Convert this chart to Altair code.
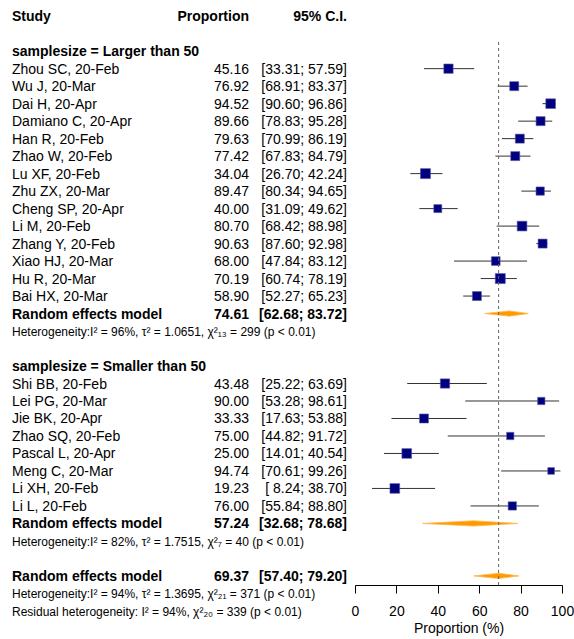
import altair as alt
import pandas as pd

# ---------------- data ----------------
studies_g1 = ["Zhou SC, 20-Feb", "Wu J, 20-Mar", "Dai H, 20-Apr", "Damiano C, 20-Apr",
              "Han R, 20-Feb", "Zhao W, 20-Feb", "Lu XF, 20-Feb", "Zhu ZX, 20-Mar",
              "Cheng SP, 20-Apr", "Li M, 20-Feb", "Zhang Y, 20-Feb", "Xiao HJ, 20-Mar",
              "Hu R, 20-Mar", "Bai HX, 20-Mar"]
prop_g1 = [45.16, 76.92, 94.52, 89.66, 79.63, 77.42, 34.04, 89.47, 40.00, 80.70, 90.63, 68.00, 70.19, 58.90]
low_g1 = [33.31, 68.91, 90.60, 78.83, 70.99, 67.83, 26.70, 80.34, 31.09, 68.42, 87.60, 47.84, 60.74, 52.27]
up_g1 = [57.59, 83.37, 96.86, 95.28, 86.19, 84.79, 42.24, 94.65, 49.62, 88.98, 92.98, 83.12, 78.19, 65.23]
weight_g1 = [4.96, 4.64, 5.39, 4.64, 4.64, 4.64, 5.73, 3.95, 3.67, 5.39, 4.64, 4.34, 5.73, 4.64]

studies_g2 = ["Shi BB, 20-Feb", "Lei PG, 20-Mar", "Jie BK, 20-Apr", "Zhao SQ, 20-Feb",
              "Pascal L, 20-Apr", "Meng C, 20-Mar", "Li XH, 20-Feb", "Li L, 20-Feb"]
prop_g2 = [43.48, 90.00, 33.33, 75.00, 25.00, 94.74, 19.23, 76.00]
low_g2 = [25.22, 53.28, 17.63, 44.82, 14.01, 70.61, 8.24, 55.84]
up_g2 = [63.69, 98.61, 53.88, 91.72, 40.54, 99.26, 38.70, 88.80]
weight_g2 = [4.96, 3.05, 4.64, 3.05, 5.39, 2.57, 5.39, 3.95]

subgroup_labels = ["samplesize = Larger than 50", "samplesize = Smaller than 50"]
model_label = "Random effects model"
model_est = [74.61, 57.24, 69.37]
model_low = [62.68, 32.68, 57.40]
model_up = [83.72, 78.68, 79.20]
het_g1 = "Heterogeneity:I\u00b2 = 96%, \u03c4\u00b2 = 1.0651, \u03c7\u00b2\u2081\u2083 = 299 (p < 0.01)"
het_g2 = "Heterogeneity:I\u00b2 = 82%, \u03c4\u00b2 = 1.7515, \u03c7\u00b2\u2087 = 40 (p < 0.01)"
het_all = "Heterogeneity:I\u00b2 = 94%, \u03c4\u00b2 = 1.3695, \u03c7\u00b2\u2082\u2081 = 371 (p < 0.01)"
het_resid = "Residual heterogeneity: I\u00b2 = 94%, \u03c7\u00b2\u2082\u2080 = 339 (p < 0.01)"
headers = ["Study", "Proportion", "95% C.I."]
x_ticks = [0, 20, 40, 60, 80, 100]


def ci(l, u):
    return f"[{l:5.2f}; {u:5.2f}]"


# ---------------- build tables (row = line in the table) ----------------
study_rows, text_rows, model_rows = [], [], []
row = 0
text_rows.append(dict(row=row, col="study", kind="bold", text=headers[0]))
text_rows.append(dict(row=row, col="prop", kind="bold", text=headers[1]))
text_rows.append(dict(row=row, col="ci", kind="bold", text=headers[2]))
row = 2
groups = [(studies_g1, prop_g1, low_g1, up_g1, weight_g1, het_g1),
          (studies_g2, prop_g2, low_g2, up_g2, weight_g2, het_g2)]
for gi, (names, p, lo, up, w, het) in enumerate(groups):
    text_rows.append(dict(row=row, col="study", kind="bold", text=subgroup_labels[gi]))
    row += 1
    for n, pv, lv, uv, wv in zip(names, p, lo, up, w):
        study_rows.append(dict(row=row, prop=pv, low=lv, up=uv, weight=wv))
        text_rows.append(dict(row=row, col="study", kind="normal", text=n))
        text_rows.append(dict(row=row, col="prop", kind="normal", text=f"{pv:.2f}"))
        text_rows.append(dict(row=row, col="ci", kind="normal", text=ci(lv, uv)))
        row += 1
    model_rows.append(dict(row=row, est=model_est[gi], low=model_low[gi], up=model_up[gi], m=gi))
    text_rows.append(dict(row=row, col="study", kind="bold", text=model_label))
    text_rows.append(dict(row=row, col="prop", kind="bold", text=f"{model_est[gi]:.2f}"))
    text_rows.append(dict(row=row, col="ci", kind="bold", text=ci(model_low[gi], model_up[gi])))
    row += 1
    text_rows.append(dict(row=row, col="study", kind="het", text=het))
    row += 2
model_rows.append(dict(row=row, est=model_est[2], low=model_low[2], up=model_up[2], m=2))
text_rows.append(dict(row=row, col="study", kind="bold", text=model_label))
text_rows.append(dict(row=row, col="prop", kind="bold", text=f"{model_est[2]:.2f}"))
text_rows.append(dict(row=row, col="ci", kind="bold", text=ci(model_low[2], model_up[2])))
text_rows.append(dict(row=row + 1, col="study", kind="het", text=het_all))
text_rows.append(dict(row=row + 2, col="study", kind="het", text=het_resid))

studies_df = pd.DataFrame(study_rows)
text_df = pd.DataFrame(text_rows)

HALF = 0.15  # diamond half height in rows
diamond_pts = []
for m in model_rows:
    diamond_pts.append(dict(m=m["m"], x=m["low"], y=m["row"], y2=m["row"]))
    diamond_pts.append(dict(m=m["m"], x=m["est"], y=m["row"] - HALF, y2=m["row"] + HALF))
    diamond_pts.append(dict(m=m["m"], x=m["up"], y=m["row"], y2=m["row"]))
diamond_df = pd.DataFrame(diamond_pts)
overall_df = pd.DataFrame({"est": [model_est[2]]})

# ---------------- chart ----------------
FONT = "Liberation Sans"
yscale = alt.Scale(domain=[-0.926, 32.52], reverse=True, nice=False, zero=False)
xscale = alt.Scale(domain=[0, 100], nice=False)

col_pos = {"study": (-343, "left"), "prop": (-106, "right"), "ci": (-8, "right")}
kind_style = {"normal": (14, "normal"), "bold": (14, "bold"), "het": (12, "normal")}

layers = []
for col, (xp, al) in col_pos.items():
    for kind, (fs, fw) in kind_style.items():
        sub = text_df[(text_df.col == col) & (text_df.kind == kind)]
        if len(sub) == 0:
            continue
        layers.append(
            alt.Chart(sub).mark_text(align=al, baseline="middle", font=FONT,
                                     fontSize=fs, fontWeight=fw, color="black", dy=1)
            .encode(x=alt.value(xp), y=alt.Y("row:Q", scale=yscale, axis=None),
                    text="text:N")
        )

ref = alt.Chart(overall_df).mark_rule(color="#666666", strokeDash=[3, 3], strokeWidth=1).encode(
    x=alt.X("est:Q", scale=xscale), y=alt.value(42), y2=alt.value(585))

squares = alt.Chart(studies_df).mark_square(color="#000080", opacity=1, stroke="#5a5aa8",
                                            strokeWidth=0.6).encode(
    x=alt.X("prop:Q", scale=xscale),
    y=alt.Y("row:Q", scale=yscale, axis=None),
    size=alt.Size("weight:Q", scale=alt.Scale(domain=[0, 6], range=[0, 105]), legend=None))

lines = alt.Chart(studies_df).mark_rule(color="#333333", strokeWidth=1).encode(
    x=alt.X("low:Q", scale=xscale,
            axis=alt.Axis(values=x_ticks, title="Proportion (%)", grid=False,
                          domainColor="black", tickColor="black", tickSize=8,
                          labelFont=FONT, labelFontSize=14, labelColor="black",
                          labelPadding=11, titleFont=FONT, titleFontSize=14,
                          titleFontWeight="normal", titleColor="black", titlePadding=3,
                          labelFlush=False)),
    x2="up:Q",
    y=alt.Y("row:Q", scale=yscale, axis=None))

diamonds = alt.Chart(diamond_df).mark_area(color="#FF9900", opacity=1, stroke="#FFB84D",
                                           strokeWidth=0.8).encode(
    x=alt.X("x:Q", scale=xscale),
    y=alt.Y("y:Q", scale=yscale, axis=None),
    y2="y2:Q",
    detail="m:N")

chart = alt.layer(lines, squares, diamonds, ref, *layers).properties(
    width=207, height=585,
    padding={"left": 355, "top": 0, "right": 12, "bottom": 54},
    autosize=alt.AutoSizeParams(type="none"),
    background="white",
).configure_view(stroke=None)

chart.save("out.html", embed_options={"renderer": "svg", "actions": False})
